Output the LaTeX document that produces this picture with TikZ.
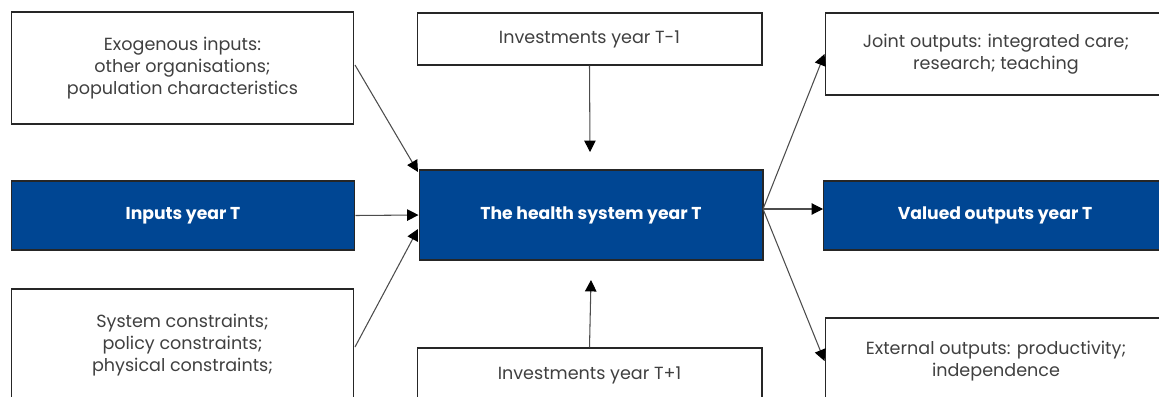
\documentclass[tikz,border=0pt]{standalone}
\usepackage{fontspec}
\setmainfont{Poppins}
\usetikzlibrary{arrows.meta}
\definecolor{sysblue}{RGB}{0,70,147}
\definecolor{boxtext}{RGB}{64,64,64}

\tikzset{
  plainbox/.style={draw=black!85, line width=0.6pt, fill=white, text=boxtext,
    align=center, font=\fontsize{10}{12.3}\selectfont},
  bluebox/.style={draw=black!85, line width=0.6pt, fill=sysblue, text=white,
    align=center, font=\fontsize{9.8}{12.3}\selectfont\bfseries},
  link/.style={draw=black!70, line width=0.6pt, -{Triangle[length=6.5pt,width=6.5pt,color=black]}}
}

\begin{document}
\begin{tikzpicture}[x=0.02cm, y=-0.02cm]
\useasboundingbox (0,0) rectangle (1159,396);
\clip (0,0) rectangle (1159,396);
% left column
\node[plainbox, minimum width=6.86cm, minimum height=2.24cm] (exo) at (182.5,68) {Exogenous inputs:\\other organisations;\\population characteristics};
\node[bluebox, minimum width=6.88cm, minimum height=1.38cm] (inputs) at (183,215.5) {Inputs year T};
\node[plainbox, minimum width=6.86cm, minimum height=2.24cm] (cons) at (182.5,345) {System constraints;\\policy constraints;\\physical constraints;};
% middle column
\node[plainbox, minimum width=6.9cm, minimum height=1.04cm] (invA) at (589.5,39) {Investments year T-1};
\node[bluebox, minimum width=6.88cm, minimum height=1.8cm] (health) at (591,215) {The health system year T};
\node[plainbox, minimum width=6.9cm, minimum height=1.08cm] (invB) at (589.5,375) {Investments year T+1};
% right column
\node[plainbox, minimum width=6.84cm, minimum height=1.64cm] (joint) at (996,54) {Joint outputs: integrated care;\\research; teaching};
\node[bluebox, minimum width=6.86cm, minimum height=1.38cm] (valued) at (995,215.5) {Valued outputs year T};
\node[plainbox, minimum width=6.84cm, minimum height=1.72cm] (ext) at (996,361) {External outputs: productivity;\\independence};
% arrow ends
\coordinate (exoIn) at (418,172);
\coordinate (consIn) at (418,229);
\coordinate (invAIn) at (590,152);
\coordinate (invBIn) at (591,280);
\coordinate (hub) at (763,209);
\coordinate (consOut) at (355,347);
\coordinate (exoOut) at (355,65);
% arrows
\draw[link] (exoOut) -- (exoIn);
\draw[link] (inputs.east) -- (health.west);
\draw[link] (consOut) -- (consIn);
\draw[link] (invA.south) -- (invAIn);
\draw[link] (invB.north) -- (invBIn);
\draw[link] (hub) -- (joint.west);
\draw[link] (hub) -- (valued.west |- hub);
\draw[link] (hub) -- (ext.west);
\end{tikzpicture}
\end{document}
